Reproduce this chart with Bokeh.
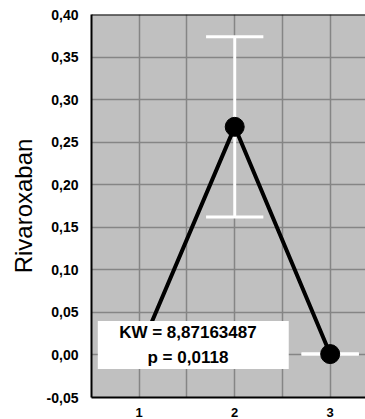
import math
from bokeh.plotting import figure
from bokeh.models import (FixedTicker, CustomJSTickFormatter, Span, BoxAnnotation,
                          Label, Range1d, ColumnDataSource)
from bokeh.embed import file_html
from bokeh.resources import INLINE

# ---- data ----
groups = [1, 2, 3]
means = [0.004, 0.268, 0.001]
errors = [0.0, 0.106, 0.0]
y_ticks = [-0.05, 0.0, 0.05, 0.10, 0.15, 0.20, 0.25, 0.30, 0.35, 0.40]
x_ticks = [1, 2, 3]
x_grid = [0.5, 1.0, 1.5, 2.0, 2.5, 3.0, 3.5]
y_title = "Rivaroxaban"
stat_lines = ["KW = 8,87163487", "p = 0,0118"]

FONT = "Liberation Sans"
cap = 0.3

upper = [m + e for m, e in zip(means, errors)]
lower = [m - e for m, e in zip(means, errors)]
src = ColumnDataSource(dict(x=groups, y=means, up=upper, lo=lower,
                            cl=[g - cap for g in groups], cr=[g + cap for g in groups]))

p = figure(width=365, height=419, output_backend="svg", toolbar_location=None,
           x_range=Range1d(0.5, 3.37), y_range=Range1d(-0.05, 0.40),
           min_border_left=91, min_border_right=0, min_border_top=14, min_border_bottom=20)
p.background_fill_color = "#c0c0c0"
p.border_fill_color = "white"
p.outline_line_color = None

# grids
p.xgrid.ticker = FixedTicker(ticks=x_grid)
p.ygrid.ticker = FixedTicker(ticks=y_ticks)
for g in (p.xgrid, p.ygrid):
    g.grid_line_color = "#858585"
    g.grid_line_width = 1.5

# axes
p.xaxis.ticker = FixedTicker(ticks=x_ticks)
p.yaxis.ticker = FixedTicker(ticks=y_ticks)
p.yaxis.formatter = CustomJSTickFormatter(code="return tick.toFixed(2).replace('.', ',');")
for ax in (p.xaxis, p.yaxis):
    ax.axis_line_color = "black"
    ax.axis_line_width = 2
    ax.major_tick_line_color = None
    ax.minor_tick_line_color = None
    ax.major_label_text_font = FONT
    ax.major_label_text_font_style = "bold"
    ax.major_label_text_color = "black"
p.yaxis.major_label_text_font_size = "14px"
p.xaxis.major_label_text_font_size = "13px"
p.yaxis.major_label_standoff = 7
p.xaxis.major_label_standoff = 4
p.yaxis.axis_label = y_title
p.yaxis.axis_label_text_font = FONT
p.yaxis.axis_label_text_font_size = "24px"
p.yaxis.axis_label_text_font_style = "normal"
p.yaxis.axis_label_text_color = "black"
p.yaxis.axis_label_standoff = 7

# top border
p.add_layout(Span(location=0.40, dimension="width", line_color="black", line_width=2))

# error bars
p.segment(x0="x", y0="lo", x1="x", y1="up", source=src, line_color="white", line_width=3)
p.segment(x0="cl", y0="up", x1="cr", y1="up", source=src, line_color="white", line_width=3)
p.segment(x0="cl", y0="lo", x1="cr", y1="lo", source=src, line_color="white", line_width=3)

# mean line and markers
p.line(x="x", y="y", source=src, line_color="black", line_width=4)
p.scatter(x="x", y="y", source=src, size=19, fill_color="black", line_color="black")

# statistics box
p.add_layout(BoxAnnotation(left=0.566, right=2.566, bottom=-0.0165, top=0.0400,
                           fill_color="white", fill_alpha=1.0, line_color=None))
for i, t in enumerate(stat_lines):
    p.add_layout(Label(x=1.51, y=0.026 - i * 0.0285, text=t, text_align="center",
                       text_baseline="middle", text_font=FONT, text_font_style="bold",
                       text_font_size="17px", text_color="black"))

open("out.html", "w").write(file_html(p, INLINE))
